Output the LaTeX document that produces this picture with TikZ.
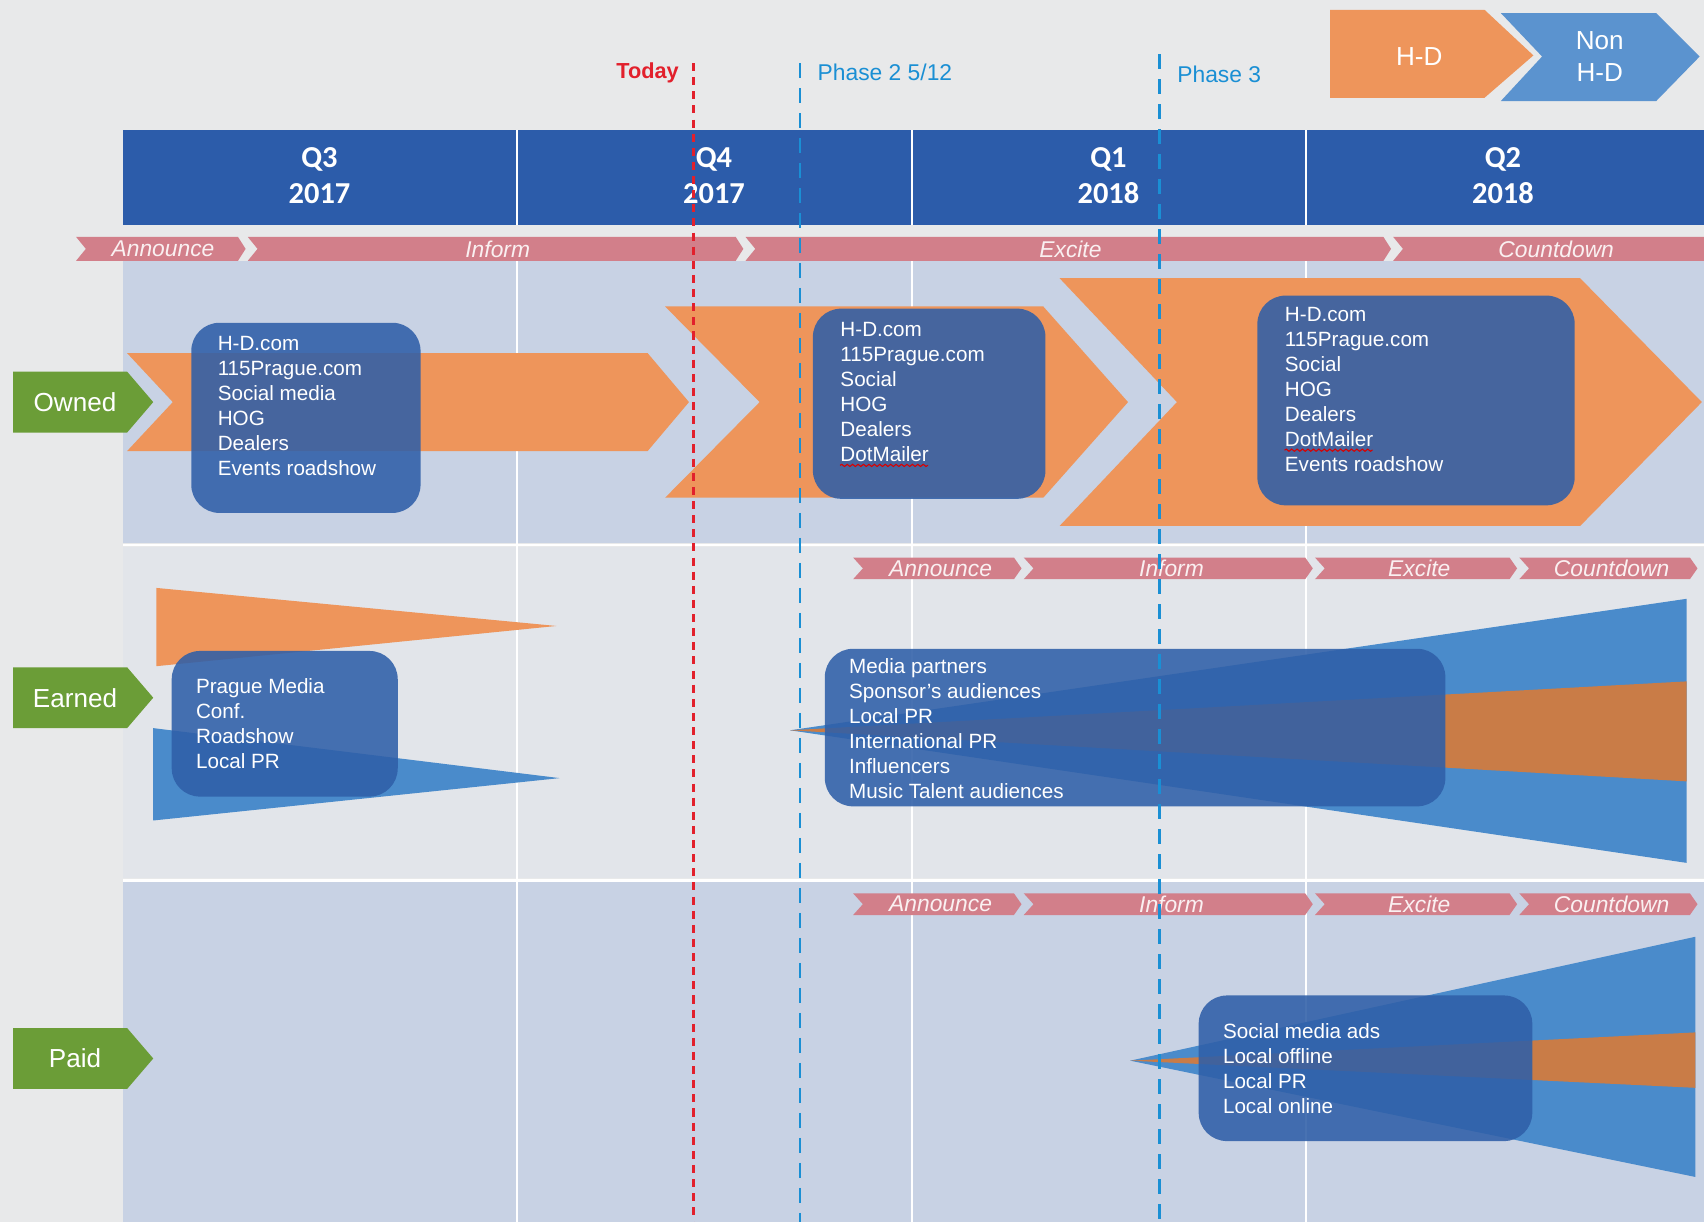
\documentclass[tikz,border=0pt]{standalone}
\usepackage{fontspec}
\setmainfont{Liberation Sans}
\newfontfamily\hdrfont{Carlito}
\usetikzlibrary{decorations.pathmorphing}
\definecolor{pagebg}{HTML}{E8E9EA}
\definecolor{lanedark}{HTML}{C8D2E4}
\definecolor{lanelight}{HTML}{E2E5EA}
\definecolor{hdrblue}{HTML}{2C5CAA}
\definecolor{phasepink}{HTML}{D27F8A}
\definecolor{hdorange}{HTML}{EE955B}
\definecolor{nonblue}{HTML}{4A8BCB}
\definecolor{legendblue}{HTML}{5B93CF}
\definecolor{boxblue}{HTML}{2F5FA8}
\definecolor{deeporange}{HTML}{C97C47}
\definecolor{lblgreen}{HTML}{6B9D37}
\definecolor{todayred}{HTML}{E2202C}
\definecolor{phaseblue}{HTML}{1A8FD4}
\begin{document}
\begin{tikzpicture}[x=0.5pt,y=-0.5pt,
  itemtext/.style={text=white,align=left,anchor=north west,inner sep=0pt,font=\fontsize{9.5}{11.5}\selectfont},
  itembox/.style={fill=boxblue,opacity=0.88,rounded corners=13pt},
  phasetext/.style={text=white!88!phasepink,inner sep=0pt,font=\fontsize{10.5}{12}\selectfont\itshape},
  qtext/.style={text=white,align=center,font=\hdrfont\bfseries\fontsize{14}{16.5}\selectfont},
  rowtext/.style={text=white,align=center,font=\fontsize{12}{14.5}\selectfont},
  marktext/.style={inner sep=0pt,font=\fontsize{10.5}{12}\selectfont},
  squiggle/.style={draw=red!85!black,line width=0.5pt,decorate,decoration={snake,amplitude=0.5pt,segment length=2.5pt}}]
\useasboundingbox (0,0) rectangle (1568,1124);
\fill[pagebg] (0,0) rectangle (1568,1124);
\fill[lanedark] (113,240) rectangle (1568,500);
\fill[lanelight] (113,503) rectangle (1568,808);
\fill[lanedark] (113,812) rectangle (1568,1124);
\draw[white,line width=1.2pt] (113,501.5) -- (1568,501.5) (113,810) -- (1568,810);
\foreach \x in {476,839,1202}
    \draw[white,line width=0.8pt] (\x,240) -- (\x,1124);

\fill[hdrblue] (113,120) rectangle (1568,207);
\foreach \x in {476,839,1202}
    \draw[white,line width=0.8pt] (\x,120) -- (\x,207);
\foreach \x/\q/\yr in {294/Q3/2017,657/Q4/2017,1020/Q1/2018,1383/Q2/2018}
    \node[qtext] (\q) at (\x,161.5) {\q\\\yr};

\foreach \a/\b/\t [count=\i] in {70/226/Announce,228/684/Inform,686/1280/Excite,1282/1578/Countdown}
    {
    \fill[phasepink] (\a,218) -- (\b-7,218) -- (\b,229) -- (\b-7,240) -- (\a,240) -- (\a+9,229) -- cycle;
    \node[phasetext] (top\i) at ({(\a+\b)/2+2},229) {\t};
    }
\foreach \y/\r in {523/earn,832/paid}
    \foreach \a/\b/\t [count=\i] in {785/940/Announce,942/1208/Inform,1210/1396/Excite,1398/1562/Countdown}
    {
    \fill[phasepink] (\a,\y-10) -- (\b-7,\y-10) -- (\b,\y) -- (\b-7,\y+10) -- (\a,\y+10) -- (\a+9,\y) -- cycle;
    \node[phasetext] (\r\i) at ({(\a+\b)/2+3},\y) {\t};
    }

\fill[hdorange] (1224,9) -- (1366,9) -- (1411,51) -- (1366,90) -- (1224,90) -- cycle;
\fill[legendblue] (1381,12) -- (1524,12) -- (1564,52) -- (1524,93) -- (1381,93) -- (1419,52) -- cycle;
\node[rowtext] (hd) at (1306,52) {H-D};
\node[rowtext] (nonhd) at (1472,52) {Non\\H-D};

\foreach \y/\t in {370/Owned,642/Earned,974/Paid}
    {
    \fill[lblgreen] (12,\y-28) -- (117,\y-28) -- (141,\y) -- (117,\y+28) -- (12,\y+28) -- cycle;
    \node[rowtext] (\t) at (69,\y) {\t};
    }

\fill[hdorange] (117,325) -- (596,325) -- (634,370) -- (596,415) -- (117,415) -- (159,370) -- cycle;
\fill[hdorange] (612,282) -- (960,282) -- (1038,370) -- (960,458) -- (612,458) -- (699,370) -- cycle;
\fill[hdorange] (975,256) -- (1454,256) -- (1566,370) -- (1454,484) -- (975,484) -- (1083,370) -- cycle;
\fill[itembox] (176,297) rectangle (387,472);
\fill[itembox] (748,284) rectangle (962,459);
\fill[itembox] (1157,272) rectangle (1449,465);
\node[itemtext] (ownA) at (200,309) {H-D.com\\115Prague.com\\Social media\\HOG\\Dealers\\Events roadshow};
\node[itemtext] (ownB) at (773,296) {H-D.com\\115Prague.com\\Social\\HOG\\Dealers\\DotMailer};
\node[itemtext] (ownC) at (1182,282) {H-D.com\\115Prague.com\\Social\\HOG\\Dealers\\DotMailer\\Events roadshow};
\draw[squiggle] ([yshift=-1.6pt]ownB.south west) -- ++(81,0);
\draw[squiggle] ([yshift=9.9pt]ownC.south west) -- ++(81,0);

\fill[hdorange] (144,541) -- (512,576) -- (144,613) -- cycle;
\fill[nonblue] (141,670) -- (515,716) -- (141,755) -- cycle;
\fill[nonblue] (727,672) -- (1552,551) -- (1552,794) -- cycle;
\fill[deeporange] (727,672) -- (1552,627) -- (1552,719) -- cycle;
\fill[itembox] (158,599) rectangle (366,733);
\fill[itembox] (759,597) rectangle (1330,742);
\node[itemtext] (earnA) at (180,624) {Prague Media\\Conf.\\Roadshow\\Local PR};
\node[itemtext] (earnB) at (781,606) {Media partners\\Sponsor's audiences\\Local PR\\International PR\\Influencers\\Music Talent audiences};

\fill[nonblue] (1040,976) -- (1560,862) -- (1560,1083) -- cycle;
\fill[deeporange] (1040,976) -- (1560,950) -- (1560,1001) -- cycle;
\fill[itembox] (1103,916) rectangle (1410,1050);
\node[itemtext] (paidA) at (1125,941) {Social media ads\\Local offline\\Local PR\\Local online};

\coordinate (tdtop) at (638,58);
\coordinate (tdbot) at (638,1124);
\coordinate (p2top) at (736,58);
\coordinate (p2bot) at (736,1124);
\coordinate (p3top) at (1067,50);
\coordinate (p3bot) at (1067,1124);
\draw[todayred,line width=1.1pt,dash pattern=on 3.7pt off 2.8pt] (tdtop) -- (tdbot);
\draw[phaseblue,line width=1.1pt,dash pattern=on 6.9pt off 4.6pt] (p2top) -- (p2bot);
\draw[phaseblue,line width=1.1pt,dash pattern=on 6.9pt off 4.6pt] (p3top) -- (p3bot);
\node[marktext,anchor=east,text=todayred,font=\bfseries\fontsize{10}{12}\selectfont] (today) at (625,67) {Today};
\node[marktext,anchor=west,text=phaseblue] (phasetwo) at (752,67) {Phase 2 5/12};
\node[marktext,anchor=west,text=phaseblue] (phasethree) at (1083,68) {Phase 3};
\end{tikzpicture}
\end{document}
